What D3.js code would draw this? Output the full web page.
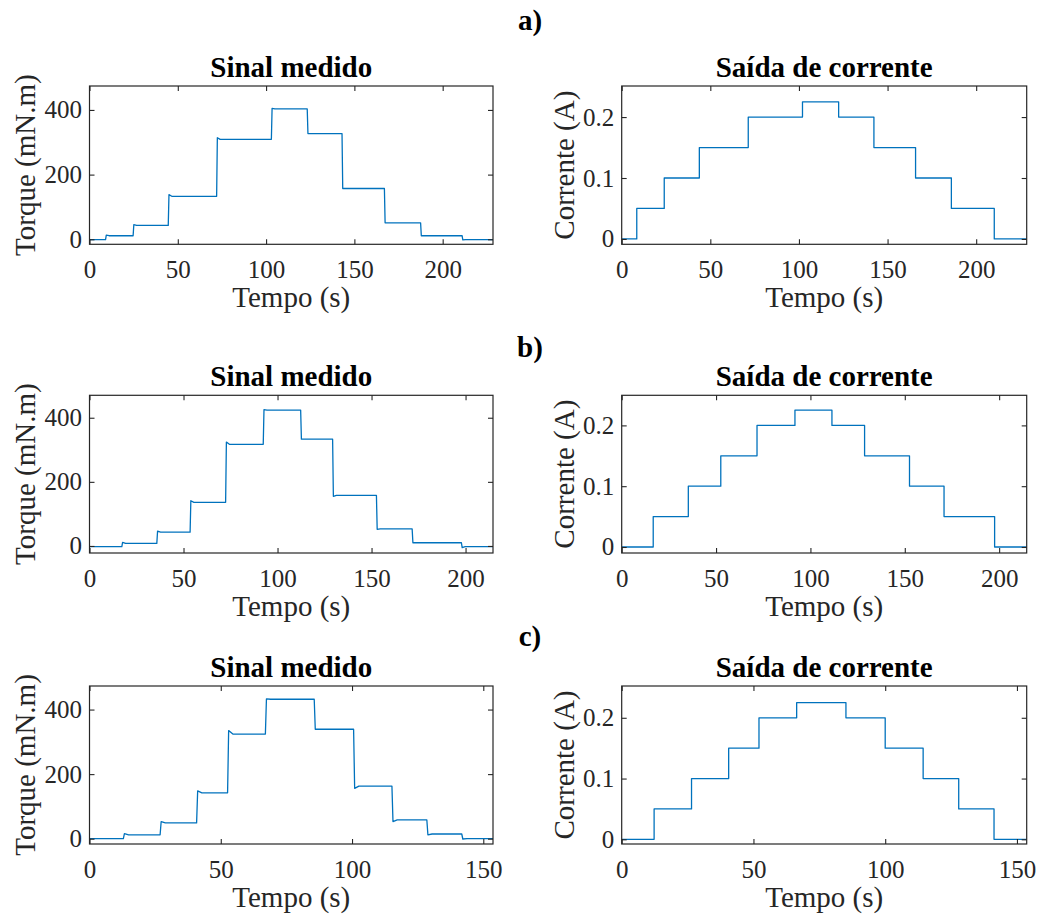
<!DOCTYPE html>
<html>
<head>
<meta charset="utf-8">
<script src="https://cdn.jsdelivr.net/npm/d3@7"></script>
<style>
  body { margin: 0; background: #fff; }
  svg { display: block; }
</style>
</head>
<body>
<svg id="chart" width="1043" height="920"></svg>
<script>
// ---------- DATA ----------
const rowLabels = ["a)", "b)", "c)"];
const leftTitle = "Sinal medido";
const rightTitle = "Saída de corrente";
const xLabel = "Tempo (s)";
const leftYLabel = "Torque (mN.m)";
const rightYLabel = "Corrente (A)";

const xTicksAB = [0, 50, 100, 150, 200];
const xTicksC = [0, 50, 100, 150];
const torqueTicks = [0, 200, 400];
const currentTicks = [0, 0.1, 0.2];

const xEnd = [228.5, 214.6, 153.7];
const torqueYDomain = [[-15.5, 474], [-22, 470], [-16.5, 473]];
const currentYDomain = [[-0.0088, 0.251], [-0.0099, 0.2495], [-0.0077, 0.2523]];

// Torque (measured signal): step instants, plateau levels, transient value right after each step
const torqueStepsA = [9.1, 24.7, 44.6, 72, 103, 123.3, 143, 167, 187.5, 211];
const torqueLevelsA = [-1, 11, 43, 133, 309, 403, 327, 157, 51, 11, -1];
const torquePeaksA = [13, 45, 138, 314, 405, 327, 157, 51, 11, -2];

const torqueStepsB = [17.2, 35.8, 53.5, 72.4, 92.4, 112.3, 129.3, 152.6, 171.6, 197.8];
const torqueLevelsB = [-2, 8, 43, 136, 317, 424, 333, 158, 53, 10, -2];
const torquePeaksB = [11, 46, 141, 324, 425, 333, 155, 52, 10, -5];

const torqueStepsC = [12.9, 26.9, 40.8, 52.6, 67, 85.6, 100.6, 115.2, 128.5, 141.8];
const torqueLevelsC = [0, 12, 49, 142, 324, 432, 339, 163, 58, 14.5, 0];
const torquePeaksC = [15.5, 53, 148, 335, 433, 339, 156, 53, 12, -1];

// Current output: step instants and levels
const currentStepsA = [8.5, 24, 43.8, 71.4, 102, 122.4, 142.3, 165.8, 186, 210.2];
const currentStepsB = [16.7, 35.3, 52.5, 71.7, 91.8, 111.4, 128.7, 152.5, 170.8, 197.6];
const currentStepsC = [12.3, 26.5, 40.6, 52.1, 66.4, 85.1, 100, 114.4, 127.9, 141.3];
const currentLevels = [0, 0.05, 0.1, 0.15, 0.2, 0.225, 0.2, 0.15, 0.1, 0.05, 0];

// ---------- LAYOUT ----------
const colX = [[89.5, 493], [621.7, 1026.7]];
const rowY = [[86, 244.3], [395.3, 553], [686, 844]];
const rowLabelBaseline = [30, 357, 646];
const AX = "#262626";
const LINE = "#0072BD";
const FONT = "Liberation Serif";
const tickFont = 25, labelFont = 29;

const svg = d3.select("#chart");

function torquePoints(steps, levels, peaks, end) {
  const pts = [[0, levels[0]]];
  steps.forEach((t, i) => {
    pts.push([t, levels[i]]);
    pts.push([t + 0.4, peaks[i]]);
    pts.push([t + 2.0, levels[i + 1]]);
  });
  pts.push([end, levels[levels.length - 1]]);
  return pts;
}
function stepPoints(steps, levels, end) {
  const pts = [[0, levels[0]]];
  steps.forEach((t, i) => { pts.push([t, levels[i]]); pts.push([t, levels[i + 1]]); });
  pts.push([end, levels[levels.length - 1]]);
  return pts;
}

const torqueData = [
  torquePoints(torqueStepsA, torqueLevelsA, torquePeaksA, xEnd[0]),
  torquePoints(torqueStepsB, torqueLevelsB, torquePeaksB, xEnd[1]),
  torquePoints(torqueStepsC, torqueLevelsC, torquePeaksC, xEnd[2])
];
const currentData = [
  stepPoints(currentStepsA, currentLevels, xEnd[0]),
  stepPoints(currentStepsB, currentLevels, xEnd[1]),
  stepPoints(currentStepsC, currentLevels, xEnd[2])
];

let clipId = 0;
function panel(r, c, data, yDomain, yTicks, title, yLab, yLabOffset) {
  const [x0, x1] = colX[c];
  const [y0, y1] = rowY[r];
  const x = d3.scaleLinear().domain([0, xEnd[r]]).range([x0, x1]);
  const y = d3.scaleLinear().domain(yDomain).range([y1, y0]);
  const xt = r === 2 ? xTicksC : xTicksAB;
  const g = svg.append("g");
  const id = "clip" + (clipId++);
  svg.append("clipPath").attr("id", id).append("rect")
    .attr("x", x0).attr("y", y0).attr("width", x1 - x0).attr("height", y1 - y0);

  g.append("path").datum(data)
    .attr("clip-path", `url(#${id})`)
    .attr("fill", "none").attr("stroke", LINE).attr("stroke-width", 1.3)
    .attr("stroke-linejoin", "round")
    .attr("d", d3.line().x(d => x(d[0])).y(d => y(d[1])));

  const styleAxis = sel => {
    sel.attr("font-family", FONT).attr("font-size", tickFont);
    sel.select(".domain").remove();
    sel.selectAll(".tick line").attr("stroke", AX).attr("stroke-width", 1.1);
    sel.selectAll("text").attr("font-size", tickFont).attr("font-family", FONT).attr("fill", AX);
  };
  g.append("g").attr("transform", `translate(0,${y1})`)
    .call(d3.axisBottom(x).tickValues(xt).tickSizeInner(-5).tickSizeOuter(0).tickPadding(16).tickFormat(d3.format("d")))
    .call(styleAxis);
  g.append("g").attr("transform", `translate(0,${y0})`)
    .call(d3.axisTop(x).tickValues(xt).tickSizeInner(-5).tickSizeOuter(0).tickFormat(""))
    .call(styleAxis);
  g.append("g").attr("transform", `translate(${x0},0)`)
    .call(d3.axisLeft(y).tickValues(yTicks).tickSizeInner(-5).tickSizeOuter(0).tickPadding(7.5).tickFormat(d => String(d)))
    .call(styleAxis);
  g.append("g").attr("transform", `translate(${x1},0)`)
    .call(d3.axisRight(y).tickValues(yTicks).tickSizeInner(-5).tickSizeOuter(0).tickFormat(""))
    .call(styleAxis);

  g.append("rect").attr("x", x0).attr("y", y0).attr("width", x1 - x0).attr("height", y1 - y0)
    .attr("fill", "none").attr("stroke", AX).attr("stroke-width", 1.2);

  g.append("text").attr("x", (x0 + x1) / 2).attr("y", y0 - 9.3)
    .attr("text-anchor", "middle").attr("font-family", FONT).attr("font-weight", "bold")
    .attr("font-size", labelFont).attr("fill", "#000").text(title);
  g.append("text").attr("x", (x0 + x1) / 2).attr("y", y1 + 63)
    .attr("text-anchor", "middle").attr("font-family", FONT).attr("font-size", labelFont)
    .attr("fill", AX).text(xLabel);
  g.append("text")
    .attr("transform", `translate(${x0 - yLabOffset},${(y0 + y1) / 2}) rotate(-90)`)
    .attr("text-anchor", "middle").attr("font-family", FONT).attr("font-size", labelFont)
    .attr("fill", AX).text(yLab);
}

for (let r = 0; r < 3; r++) {
  panel(r, 0, torqueData[r], torqueYDomain[r], torqueTicks, leftTitle, leftYLabel, 55);
  panel(r, 1, currentData[r], currentYDomain[r], currentTicks, rightTitle, rightYLabel, 47.5);
  svg.append("text").attr("x", 530).attr("y", rowLabelBaseline[r])
    .attr("text-anchor", "middle").attr("font-family", FONT).attr("font-weight", "bold")
    .attr("font-size", labelFont).attr("fill", "#000").text(rowLabels[r]);
}
</script>
</body>
</html>
